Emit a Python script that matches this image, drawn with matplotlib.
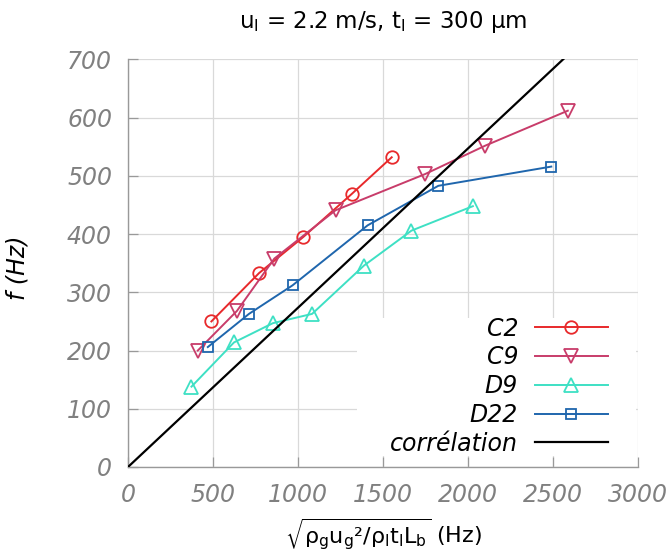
import numpy as np
import matplotlib
matplotlib.use("Agg")
import matplotlib.pyplot as plt
from matplotlib.patches import Rectangle

plt.rcParams.update({
    "font.family": "DejaVu Sans",
    "mathtext.default": "regular",
    "figure.facecolor": "white",
    "axes.facecolor": "white",
})

# Data
c2_x = [490, 770, 1030, 1315, 1550]
c2_y = [250, 333, 395, 469, 532]

c9_x = [410, 640, 860, 1220, 1745, 2100, 2585]
c9_y = [200, 268, 358, 441, 503, 552, 612]

d9_x = [373, 623, 851, 1082, 1387, 1666, 2027]
d9_y = [138, 214, 247, 263, 346, 406, 448]

d22_x = [469, 711, 967, 1408, 1824, 2488]
d22_y = [206, 263, 312, 415, 483, 516]

corr_x = [0, 3000]
corr_slope = 0.2738

x_ticks = [0, 500, 1000, 1500, 2000, 2500, 3000]
y_ticks = [0, 100, 200, 300, 400, 500, 600, 700]

fig = plt.figure(figsize=(6.72, 5.59), dpi=100)
ax = fig.add_axes([0.1905, 0.1646, 0.7595, 0.729])

ms = 9
mew = 1.3
lw = 1.4
ax.plot(c2_x, c2_y, color="#e8292b", lw=lw, marker="o", ms=ms, mfc="none",
        mew=mew, label="C2", zorder=3)
ax.plot(c9_x, c9_y, color="#c83c6a", lw=lw, marker="v", ms=ms + 1, mfc="none",
        mew=mew, label="C9", zorder=3)
ax.plot(d9_x, d9_y, color="#3ee0c4", lw=lw, marker="^", ms=ms + 1, mfc="none",
        mew=mew, label="D9", zorder=3)
ax.plot(d22_x, d22_y, color="#1f66ad", lw=lw, marker="s", ms=7, mfc="none",
        mew=mew, label="D22", zorder=3)
ax.plot(corr_x, [corr_slope * v for v in corr_x], color="black", lw=1.6,
        label="corrélation", zorder=3)

ax.set_xlim(0, 3000)
ax.set_ylim(0, 700)
ax.set_xticks(x_ticks)
ax.set_yticks(y_ticks)

ax.grid(True, color="#d9d9d9", linewidth=0.9)
ax.set_axisbelow(True)
for side in ["top", "right"]:
    ax.spines[side].set_visible(False)
for side in ["left", "bottom"]:
    ax.spines[side].set_color("#999999")
    ax.spines[side].set_linewidth(1.0)

ax.tick_params(direction="in", length=7.5, width=0.9, color="#999999",
               labelcolor="#808080", labelsize=17, pad=11.5)
for lab in ax.get_xticklabels() + ax.get_yticklabels():
    lab.set_fontstyle("italic")

ax.set_title("$u_l$ = 2.2 m/s, $t_l$ = 300 μm", fontsize=16.5, pad=23)
ax.set_ylabel("f (Hz)", fontsize=17, fontstyle="italic")
ax.yaxis.set_label_coords(-0.194, 0.49)
ax.set_xlabel(r"$\sqrt{\rho_g u_g²/\rho_l t_l L_b}$ (Hz)", fontsize=16)
ax.xaxis.set_label_coords(0.5, -0.121)

# white key box hiding the grid behind the legend
ax.add_patch(Rectangle((0.4486, 0.027), 0.5464, 0.339, transform=ax.transAxes,
                       facecolor="white", edgecolor="none", zorder=1))

leg = ax.legend(loc="lower right", bbox_to_anchor=(0.940, 0.028),
                markerfirst=False, frameon=False, fontsize=17,
                handlelength=3.1, labelspacing=0.2, borderaxespad=0,
                borderpad=0, handletextpad=0.7, numpoints=1)
for t in leg.get_texts():
    t.set_fontstyle("italic")
    t.set_ha("right")

fig.savefig("out.png", dpi=100, facecolor="white")
